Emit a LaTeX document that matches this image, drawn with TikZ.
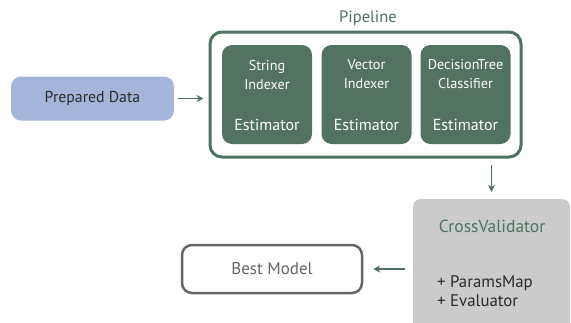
\documentclass[tikz,border=0pt]{standalone}
\usepackage{fontspec}
\setmainfont{PT Sans}
\usetikzlibrary{arrows.meta}
\definecolor{pipegreen}{HTML}{4F7261}
\definecolor{stagegreen}{HTML}{527361}
\definecolor{datablue}{HTML}{A3B5D9}
\definecolor{cvgray}{HTML}{CBCBCB}
\definecolor{modelgray}{HTML}{6B6464}
\definecolor{darktext}{HTML}{2B2B2B}
\tikzset{
  stagebox/.style={draw=none, fill=stagegreen, rounded corners=10pt,
    minimum width=90pt, minimum height=99pt, inner sep=0pt},
  stagename/.style={text=white, font=\fontsize{14.2}{18.5}\selectfont, align=center, inner sep=0pt},
  stagekind/.style={text=white, font=\fontsize{16}{18}\selectfont, inner sep=0pt},
  flow/.style={draw=pipegreen, line width=1.5pt, -{Stealth[length=7pt,width=7pt]}},
}
\begin{document}
\begin{tikzpicture}[x=1pt,y=-1pt]
\useasboundingbox (0,0) rectangle (571,322);
% input data
\node[fill=datablue, rounded corners=10pt, minimum width=163pt, minimum height=44pt,
      text=darktext, font=\fontsize{15.8}{18}\selectfont] (data) at (92.5,98.5) {Prepared Data};
% pipeline frame with its three stages
\node[draw=pipegreen, line width=3pt, fill=white, rounded corners=12pt,
      minimum width=311pt, minimum height=125pt] (pipe) at (365.5,94.5) {};
\node[text=pipegreen, font=\fontsize{16.5}{18}\selectfont] (pipelabel) at (368,18) {Pipeline};
\node[stagebox] (s1) at (267,94.5) {};
\node[stagebox] (s2) at (366.5,94.5) {};
\node[stagebox] (s3) at (465.5,94.5) {};
\node[stagename] (n1) at (267,75) {String\\Indexer};
\node[stagename] (n2) at (366.5,74) {Vector\\Indexer};
\node[stagename] (n3) at (465.5,74) {DecisionTree\\Classifier};
\node[stagekind] (k1) at (267,125) {Estimator};
\node[stagekind] (k2) at (366.5,125) {Estimator};
\node[stagekind] (k3) at (465.5,125) {Estimator};
% cross validation and result
\node[fill=cvgray, rounded corners=8pt, minimum width=157pt, minimum height=136pt] (cv) at (491.5,267) {};
\node[text=pipegreen, font=\fontsize{17.5}{19}\selectfont] (cvlabel) at (492,226) {CrossValidator};
\node[text=darktext, font=\fontsize{16.8}{18.5}\selectfont, align=left, anchor=west, inner sep=0pt] (cvparams) at (437,291) {+ ParamsMap\\+ Evaluator};
\node[draw=modelgray, line width=2.5pt, rounded corners=10pt, minimum width=180pt, minimum height=48pt,
      text=modelgray, font=\fontsize{17}{19}\selectfont] (best) at (272,269) {Best Model};
% connectors
\draw[flow, shorten <=4pt, shorten >=5pt] (data.east) -- (data.east -| pipe.west);
\coordinate (pipeout) at (pipe.south -| cv.north);
\draw[flow, shorten <=6pt, shorten >=7pt] (pipeout) -- (cv.north);
\draw[flow, shorten <=8pt, shorten >=10pt] (best.east -| cv.west) -- (best.east);
\end{tikzpicture}
\end{document}
